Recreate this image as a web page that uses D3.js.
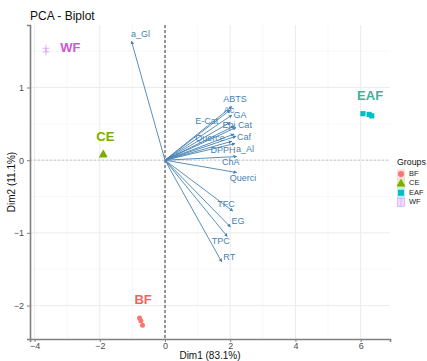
<!DOCTYPE html>
<html><head><meta charset="utf-8">
<script src="https://cdn.jsdelivr.net/npm/d3@7"></script>
<style>body{margin:0;background:#fff}svg{font-family:"Liberation Sans",Arial,sans-serif}</style>
</head><body><svg id="c" width="427" height="361"></svg>
<script>
// variable loadings (arrow tips, data units)
const varNames = ["a_Gl","ABTS","Ac","GA","E-Cat","Epi","Cat","Querce","Caf","DPPH","a_Al","ChA","Querci","TFC","EG","TPC","RT"];
const varX = [-1.03,2.05,2.0,2.05,2.0,2.12,2.18,2.12,2.18,2.05,2.15,2.2,2.2,2.08,2.01,1.91,1.74];
const varY = [1.64,0.74,0.69,0.62,0.52,0.47,0.45,0.36,0.33,0.26,0.23,0.05,-0.17,-0.70,-0.92,-1.05,-1.40];
// label anchor positions (data units, as placed by repel)
const labX = [-0.75,2.15,1.96,2.30,1.28,1.96,2.45,1.38,2.42,1.78,2.45,2.02,2.39,1.87,2.24,1.71,1.97];
const labY = [1.73,0.84,0.68,0.62,0.53,0.47,0.47,0.29,0.31,0.13,0.14,-0.04,-0.26,-0.61,-0.85,-1.12,-1.34];

// individuals
const groups = ["BF","CE","EAF","WF"];
const groupColors = ["#F8766D","#7CAE00","#00BFC4","#C77CFF"];
const labelColors = ["#EE665E","#7CAE00","#3AB39C","#D158CF"];
const indGroup = ["BF","BF","BF","CE","CE","EAF","EAF","EAF","WF","WF"];
const indX = [-0.78,-0.74,-0.69,-1.90,-1.89,6.07,6.26,6.34,-3.65,-3.65];
const indY = [-2.17,-2.21,-2.27,0.07,0.08,0.64,0.63,0.61,1.54,1.49];
// group mean label positions
const meanX = [-0.67,-1.83,6.29,-2.90];
const meanY = [-1.93,0.31,0.87,1.53];

const xTicks = [-4,-2,0,2,4,6];
const yTicks = [-2,-1,0,1];

const svg = d3.select("#c");
const x = d3.scaleLinear().domain([-4.14,6.9]).range([30,390]);
const y = d3.scaleLinear().domain([-2.46,1.86]).range([339,25]);

// grid
const minorX = [-3,-1,1,3,5];
const minorY = [-1.5,-0.5,0.5,1.5];
const g = svg.append("g");
g.selectAll(".mx").data(minorX).join("line").attr("x1",d=>x(d)).attr("x2",d=>x(d)).attr("y1",25).attr("y2",339).attr("stroke","#F4F4F4").attr("stroke-width",0.6);
g.selectAll(".my").data(minorY).join("line").attr("y1",d=>y(d)).attr("y2",d=>y(d)).attr("x1",30).attr("x2",390).attr("stroke","#F4F4F4").attr("stroke-width",0.6);
g.selectAll(".gx").data(xTicks).join("line").attr("x1",d=>x(d)).attr("x2",d=>x(d)).attr("y1",25).attr("y2",339).attr("stroke","#EBEBEB").attr("stroke-width",1);
g.selectAll(".gy").data(yTicks).join("line").attr("y1",d=>y(d)).attr("y2",d=>y(d)).attr("x1",30).attr("x2",390).attr("stroke","#EBEBEB").attr("stroke-width",1);

// zero lines
svg.append("line").attr("x1",30).attr("x2",390).attr("y1",y(0)).attr("y2",y(0)).attr("stroke","#BDBDBD").attr("stroke-dasharray","2,2").attr("stroke-width",0.8);
svg.append("line").attr("x1",x(0)).attr("x2",x(0)).attr("y1",25).attr("y2",339).attr("stroke","#222").attr("stroke-dasharray","3,2").attr("stroke-width",0.9);

// axes
const xa = svg.append("g").attr("transform","translate(0,339)").call(d3.axisBottom(x).tickValues(xTicks).tickSize(3).tickFormat(d3.format("d")));
const ya = svg.append("g").attr("transform","translate(30,0)").call(d3.axisLeft(y).tickValues(yTicks).tickSize(3).tickFormat(d3.format("d")));
[xa,ya].forEach(a=>{
  a.select(".domain").attr("stroke","#808080").attr("stroke-width",1.6);
  a.selectAll(".tick line").attr("stroke","#808080");
  a.selectAll(".tick text").attr("fill","#4D4D4D").attr("font-size",9).attr("font-family","Liberation Sans, Arial");
});
xa.selectAll(".tick text").attr("y",4).attr("dy","0.71em");

// arrows
const defs = svg.append("defs");
defs.append("marker").attr("id","ah").attr("viewBox","0 0 10 10").attr("refX",9).attr("refY",5)
  .attr("markerWidth",4).attr("markerHeight",4).attr("orient","auto")
  .append("path").attr("d","M0,0L10,5L0,10Z").attr("fill","#4682B4");
svg.selectAll(".arr").data(varNames).join("line")
  .attr("x1",x(0)).attr("y1",y(0))
  .attr("x2",(d,i)=>x(varX[i])).attr("y2",(d,i)=>y(varY[i]))
  .attr("stroke","#4682B4").attr("stroke-width",0.9).attr("marker-end","url(#ah)");
svg.selectAll(".vl").data(varNames).join("text")
  .attr("x",(d,i)=>x(labX[i])).attr("y",(d,i)=>y(labY[i]))
  .attr("text-anchor","middle").attr("dominant-baseline","middle")
  .attr("font-size",9).attr("fill","#4682B4").text(d=>d);

// individual points
const pts = svg.append("g");
indGroup.forEach((grp,k)=>{
  const i = groups.indexOf(grp), cx = x(indX[k]), cy = y(indY[k]), c = groupColors[i];
  if(i===0) pts.append("circle").attr("cx",cx).attr("cy",cy).attr("r",2.5).attr("fill",c);
  else if(i===1) pts.append("path").attr("d",d3.symbol(d3.symbolTriangle,30)()).attr("transform",`translate(${cx},${cy})`).attr("fill",c);
  else if(i===2) pts.append("rect").attr("x",cx-2.6).attr("y",cy-2.6).attr("width",5.2).attr("height",5.2).attr("fill",c);
  else pts.append("path").attr("d",`M${cx-3.5},${cy}H${cx+3.5}M${cx},${cy-3.5}V${cy+3.5}`).attr("stroke",c).attr("stroke-width",0.8).attr("opacity",0.75);
});
// group labels
svg.selectAll(".gl").data(groups).join("text")
  .attr("x",(d,i)=>x(meanX[i])).attr("y",(d,i)=>y(meanY[i]))
  .attr("text-anchor","middle").attr("dominant-baseline","middle")
  .attr("font-size",13).attr("font-weight","bold").attr("fill",(d,i)=>labelColors[i]).text(d=>d);

// title & axis titles
svg.append("text").attr("x",30).attr("y",20).attr("font-size",12).attr("fill","#111").text("PCA - Biplot");
svg.append("text").attr("x",210).attr("y",359).attr("text-anchor","middle").attr("font-size",10).attr("fill","#111").text("Dim1 (83.1%)");
svg.append("text").attr("transform","translate(15,182) rotate(-90)").attr("text-anchor","middle").attr("font-size",10).attr("fill","#111").text("Dim2 (11.1%)");

// legend
const lg = svg.append("g").attr("transform","translate(397,0)");
lg.append("text").attr("x",0).attr("y",163).attr("dominant-baseline","middle").attr("font-size",8.8).attr("fill","#111").text("Groups");
groups.forEach((gname,i)=>{
  const cy = 174 + i*9.4, cx = 4, c = groupColors[i];
  lg.append("rect").attr("x",cx-4).attr("y",cy-4.7).attr("width",8).attr("height",9.4).attr("fill",c).attr("opacity",0.25);
  if(i===0) lg.append("circle").attr("cx",cx).attr("cy",cy).attr("r",3).attr("fill",c);
  else if(i===1) lg.append("path").attr("d",d3.symbol(d3.symbolTriangle,36)()).attr("transform",`translate(${cx},${cy+0.5})`).attr("fill",c);
  else if(i===2) lg.append("rect").attr("x",cx-3).attr("y",cy-3).attr("width",6).attr("height",6).attr("fill",c);
  else {
    lg.append("rect").attr("x",cx-3.5).attr("y",cy-4).attr("width",7).attr("height",8).attr("fill","none").attr("stroke",c).attr("stroke-width",0.6).attr("opacity",0.7);
    lg.append("path").attr("d",`M${cx},${cy-4}V${cy+4}`).attr("stroke",c).attr("stroke-width",0.6).attr("opacity",0.7);
  }
  lg.append("text").attr("x",12).attr("y",cy).attr("dominant-baseline","middle").attr("font-size",7.5).attr("fill","#222").text(gname);
});
</script></body></html>
